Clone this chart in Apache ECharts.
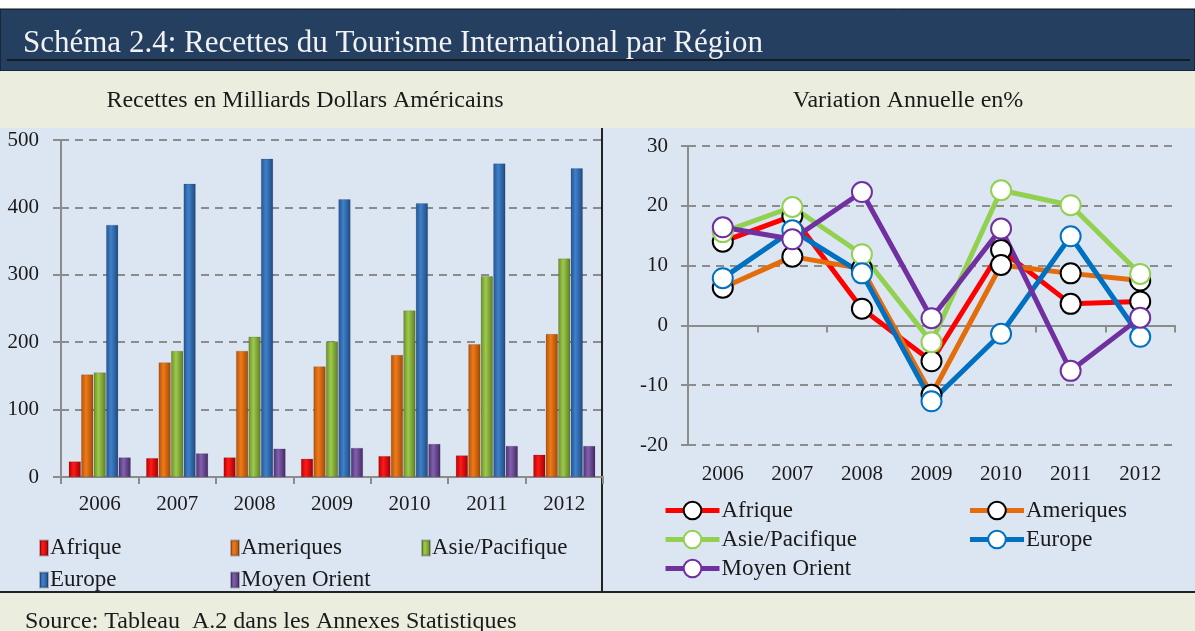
<!DOCTYPE html>
<html>
<head>
    <meta charset="UTF-8">
    <title>Recettes du Tourisme International par Région</title>
    <script src="https://cdn.jsdelivr.net/npm/echarts@6/dist/echarts.min.js"></script>
    <style>
        body { margin: 0; padding: 0; background: #fff; }
        #chart { width: 1195px; height: 631px; }
    </style>
</head>
<body>
<div id="chart"></div>
<script>
// données
const years = ['2006', '2007', '2008', '2009', '2010', '2011', '2012'];
const regions = ['Afrique', 'Ameriques', 'Asie/Pacifique', 'Europe', 'Moyen Orient'];

// recettes en milliards USD
const recAfrique = [23, 28, 29, 27, 31, 32, 33];
const recAmeriques = [152, 170, 187, 164, 181, 197, 212];
const recAsie = [155, 187, 208, 201, 247, 298, 324];
const recEurope = [374, 435, 472, 412, 406, 465, 458];
const recMoyenOrient = [29, 35, 42, 43, 49, 46, 46];

// variation annuelle en %
const varAfrique = [14.0, 18.3, 2.8, -6.0, 12.6, 3.6, 4.0];
const varAmeriques = [6.3, 11.5, 9.5, -11.6, 10.1, 8.7, 7.5];
const varAsie = [15.6, 19.8, 11.9, -2.8, 22.6, 20.1, 8.6];
const varEurope = [7.9, 15.9, 8.7, -12.7, -1.4, 14.9, -1.9];
const varMoyenOrient = [16.4, 14.4, 22.3, 1.2, 16.2, -7.6, 1.3];

const leftTicks = [0, 500, 100];   // min, max, interval
const rightTicks = [-20, 30, 10];

const barColors = [
    ['#b80000', '#ff1a1a', '#a00000'],
    ['#b45208', '#f07a18', '#a04806'],
    ['#6d8c2c', '#9ccb4a', '#5f7c25'],
    ['#24558f', '#3f80cc', '#1f4a7d'],
    ['#4e3073', '#8260ae', '#432864']
];
const lineColors = ['#ff0000', '#e46c0a', '#92d050', '#0070c0', '#7030a0'];
const markerBorders = ['#000000', '#000000', '#92d050', '#0070c0', '#7030a0'];

const font = '"Liberation Serif", "DejaVu Serif", serif';
const txt = '#1a1a1a';
const gridLine = { show: true, lineStyle: { color: '#8c8c8c', width: 2, type: [8, 6] } };
const axisGray = { color: '#8c8c8c', width: 2 };

const recData = [recAfrique, recAmeriques, recAsie, recEurope, recMoyenOrient];
const varData = [varAfrique, varAmeriques, varAsie, varEurope, varMoyenOrient];

function barGradient(c) {
    return new echarts.graphic.LinearGradient(0, 0, 1, 0, [
        { offset: 0, color: c[0] },
        { offset: 0.4, color: c[1] },
        { offset: 1, color: c[2] }
    ]);
}

const chart = echarts.init(document.getElementById('chart'));

const series = [];
regions.forEach(function (name, i) {
    series.push({
        name: name,
        type: 'bar',
        xAxisIndex: 0,
        yAxisIndex: 0,
        barWidth: 12,
        barGap: '4%',
        data: recData[i],
        itemStyle: { color: barGradient(barColors[i]), borderColor: 'rgba(0,0,0,0.25)', borderWidth: 0.5 }
    });
});
regions.forEach(function (name, i) {
    series.push({
        name: name + ' ',
        type: 'line',
        xAxisIndex: 1,
        yAxisIndex: 1,
        data: varData[i],
        symbol: 'circle',
        symbolSize: 20,
        lineStyle: { color: lineColors[i], width: 5 },
        itemStyle: { color: '#ffffff', borderColor: markerBorders[i], borderWidth: 2 }
    });
});

const option = {
    backgroundColor: '#ffffff',
    animation: false,
    textStyle: { fontFamily: font },
    graphic: [
        { type: 'rect', shape: { x: 0, y: 9, width: 1195, height: 62 }, style: { fill: '#243f60', stroke: '#111', lineWidth: 1 }, z: -10 },
        { type: 'line', shape: { x1: 7, y1: 60, x2: 1190, y2: 60 }, style: { stroke: '#111', lineWidth: 1.5 }, z: -9 },
        { type: 'rect', shape: { x: 0, y: 71, width: 1195, height: 57 }, style: { fill: '#ebeede' }, z: -10 },
        { type: 'rect', shape: { x: 0, y: 128, width: 1195, height: 464 }, style: { fill: '#dce6f2' }, z: -10 },
        { type: 'rect', shape: { x: 0, y: 592, width: 1195, height: 39 }, style: { fill: '#ebeede' }, z: -10 },
        { type: 'line', shape: { x1: 0, y1: 592, x2: 1195, y2: 592 }, style: { stroke: '#222', lineWidth: 2 }, z: -9 },
        { type: 'line', shape: { x1: 602, y1: 128, x2: 602, y2: 592 }, style: { stroke: '#222', lineWidth: 2 }, z: -9 }
    ],
    title: [
        { text: 'Schéma 2.4: Recettes du Tourisme International par Région', left: 18, top: 23,
          textStyle: { color: '#f2f2f2', fontSize: 31, fontWeight: 'normal', fontFamily: font } },
        { text: 'Recettes en Milliards Dollars Américains', left: 300, top: 84, textAlign: 'center',
          textStyle: { color: txt, fontSize: 24, fontWeight: 'normal', fontFamily: font } },
        { text: 'Variation Annuelle en%', left: 903, top: 84, textAlign: 'center',
          textStyle: { color: txt, fontSize: 24, fontWeight: 'normal', fontFamily: font } },
        { text: 'Source: Tableau  A.2 dans les Annexes Statistiques', left: 20, top: 605,
          textStyle: { color: txt, fontSize: 24, fontWeight: 'normal', fontFamily: font } }
    ],
    legend: [
        {
            data: regions,
            left: 34, top: 527, width: 590,
            itemWidth: 8, itemHeight: 15, itemGap: 0,
            icon: 'rect',
            textStyle: { color: txt, fontSize: 23, fontFamily: font, width: 180, lineHeight: 32, padding: [0, 0, 0, -3] }
        },
        {
            data: regions.map(function (r) { return r + ' '; }),
            formatter: function (n) { return n.trim(); },
            left: 658, top: 491, width: 640,
            itemWidth: 54, itemHeight: 22, itemGap: 0,
            lineStyle: { width: 5 },
            textStyle: { color: txt, fontSize: 23, fontFamily: font, width: 246, lineHeight: 29, padding: [0, 0, 0, -3] }
        }
    ],
    grid: [
        { left: 61, right: 592, top: 140, bottom: 154 },
        { left: 688, right: 20, top: 146, bottom: 186 }
    ],
    xAxis: [
        {
            type: 'category', gridIndex: 0, data: years,
            axisLine: { lineStyle: axisGray },
            axisTick: { show: true, length: 7, lineStyle: axisGray },
            axisLabel: { color: txt, fontSize: 21, margin: 17, fontFamily: font }
        },
        {
            type: 'category', gridIndex: 1, data: years,
            axisLine: { onZero: true, lineStyle: axisGray },
            axisTick: { show: true, length: 7, lineStyle: axisGray },
            axisLabel: { show: false }
        },
        {
            type: 'category', gridIndex: 1, data: years, position: 'bottom',
            axisLine: { show: false, onZero: false },
            axisTick: { show: false },
            axisLabel: { color: txt, fontSize: 21, margin: 19, fontFamily: font }
        }
    ],
    yAxis: [
        {
            type: 'value', gridIndex: 0,
            min: leftTicks[0], max: leftTicks[1], interval: leftTicks[2],
            axisLine: { show: true, lineStyle: axisGray },
            axisTick: { show: true, length: 8, lineStyle: axisGray },
            splitLine: gridLine,
            axisLabel: { color: txt, fontSize: 21, margin: 22, fontFamily: font }
        },
        {
            type: 'value', gridIndex: 1,
            min: rightTicks[0], max: rightTicks[1], interval: rightTicks[2],
            axisLine: { show: true, lineStyle: axisGray },
            axisTick: { show: true, length: 7, lineStyle: axisGray },
            splitLine: gridLine,
            axisLabel: { color: txt, fontSize: 21, margin: 20, fontFamily: font }
        }
    ],
    series: series
};

chart.setOption(option);
</script>
</body>
</html>
